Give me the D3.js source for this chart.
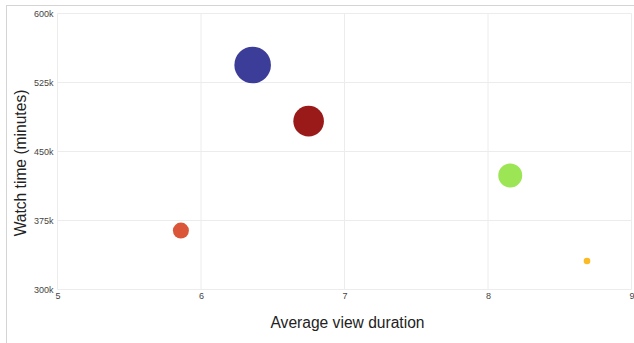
<!DOCTYPE html>
<html>
<head>
<meta charset="utf-8">
<script src="https://cdn.jsdelivr.net/npm/d3@7"></script>
<style>
  html, body { margin: 0; padding: 0; background: #fff; }
  svg { display: block; }
</style>
</head>
<body>
<svg id="chart" width="634" height="343"></svg>
<script>
// ---- data ----
const names = ["A", "B", "C", "D", "E"];
const avgViewDuration = [6.36, 6.75, 8.155, 5.86, 8.69];
const watchTime = [544000, 483000, 424000, 364000, 331000];
const bubbleSize = [335, 234, 144, 64, 11];
const colors = ["#3c3c99", "#9a1a1a", "#9ce655", "#db5639", "#fbbb24"];
const xTicks = [5, 6, 7, 8, 9];
const yTicks = [300000, 375000, 450000, 525000, 600000];

// ---- layout ----
const svg = d3.select("#chart");
const plotL = 57.5, plotR = 631.5, plotT = 13.5, plotB = 289.5;

// outer frame
svg.append("rect")
  .attr("x", 6.5).attr("y", 5.5)
  .attr("width", 700).attr("height", 400)
  .attr("fill", "none").attr("stroke", "#d4d4d4").attr("stroke-width", 1);

const x = d3.scaleLinear().domain([5, 9]).range([plotL, plotR]);
const y = d3.scaleLinear().domain([300000, 600000]).range([plotB, plotT]);
const r = d3.scaleSqrt().domain([0, d3.max(bubbleSize)]).range([0, 18.3]);

// grid
const grid = svg.append("g");
grid.selectAll("line.v").data(xTicks).join("line")
  .attr("class", "v")
  .attr("x1", d => x(d)).attr("x2", d => x(d))
  .attr("y1", plotT).attr("y2", plotB)
  .attr("stroke", "#ececec").attr("stroke-width", 1);
grid.selectAll("line.h").data(yTicks).join("line")
  .attr("class", "h")
  .attr("y1", d => y(d)).attr("y2", d => y(d))
  .attr("x1", plotL).attr("x2", plotR)
  .attr("stroke", "#ececec").attr("stroke-width", 1);

// axes (labels only)
const fmtK = d => (d / 1000) + "k";
const xAxis = svg.append("g")
  .attr("transform", `translate(0,${plotB})`)
  .call(d3.axisBottom(x).tickValues(xTicks).tickSize(0).tickPadding(3).tickFormat(d3.format("d")));
const yAxis = svg.append("g")
  .attr("transform", `translate(${plotL},0)`)
  .call(d3.axisLeft(y).tickValues(yTicks).tickSize(0).tickPadding(4).tickFormat(fmtK));
[xAxis, yAxis].forEach(a => {
  a.select(".domain").remove();
  a.selectAll("text")
    .attr("font-family", "Liberation Sans, Arial, sans-serif")
    .attr("font-size", 9)
    .attr("fill", "#444");
});

// bubbles
const data = names.map((n, i) => ({ n, x: avgViewDuration[i], y: watchTime[i], s: bubbleSize[i], c: colors[i] }));
svg.append("g").selectAll("circle").data(data).join("circle")
  .attr("cx", d => x(d.x))
  .attr("cy", d => y(d.y))
  .attr("r", d => r(d.s))
  .attr("fill", d => d.c);

// axis titles
svg.append("text")
  .attr("x", 347.5).attr("y", 328)
  .attr("text-anchor", "middle")
  .attr("font-family", "Liberation Sans, Arial, sans-serif")
  .attr("font-size", 15.6)
  .attr("fill", "#222")
  .text("Average view duration");

svg.append("text")
  .attr("transform", "translate(26,163) rotate(-90)")
  .attr("text-anchor", "middle")
  .attr("font-family", "Liberation Sans, Arial, sans-serif")
  .attr("font-size", 15.6)
  .attr("fill", "#222")
  .text("Watch time (minutes)");
</script>
</body>
</html>
